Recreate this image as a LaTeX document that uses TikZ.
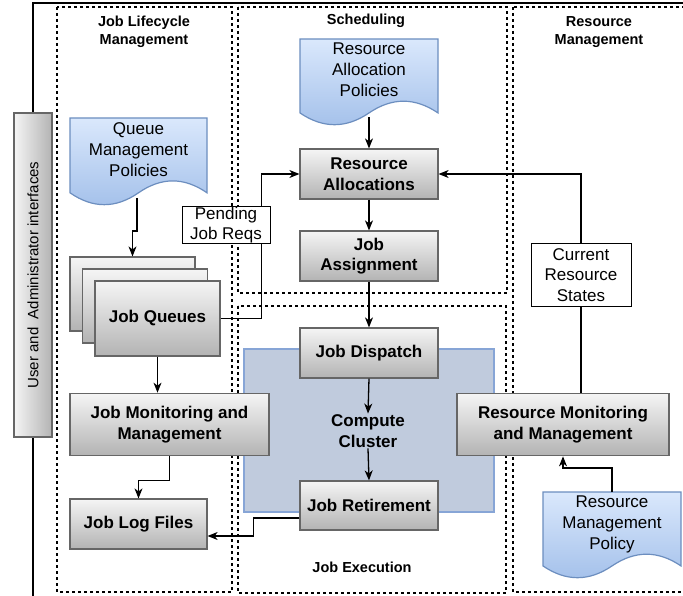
\documentclass[tikz,border=0pt]{standalone}
\usepackage{fontspec}
\setmainfont{Liberation Sans}
\usetikzlibrary{arrows.meta,calc}
\definecolor{docTop}{HTML}{DAE8FC}
\definecolor{docBot}{HTML}{A3C0EA}
\definecolor{docLine}{HTML}{6C8EBF}
\definecolor{boxTop}{HTML}{F5F5F5}
\definecolor{boxBot}{HTML}{B3B3B3}
\definecolor{boxLine}{HTML}{666666}
\definecolor{ccFill}{HTML}{C0CBDD}
\definecolor{ccLine}{HTML}{87A5D6}
\tikzset{
  gbox/.style={draw=boxLine, line width=1.2pt, top color=boxTop, bottom color=boxBot,
    font=\bfseries\fontsize{17}{20.5}\selectfont, align=center, inner sep=0pt},
  lblbox/.style={draw=black, fill=white, line width=1pt,
    font=\fontsize{17}{20.5}\selectfont, align=center, inner sep=0pt},
  contbox/.style={draw=black, line width=1.2pt, dash pattern=on 3pt off 3pt},
  conttitle/.style={font=\bfseries\fontsize{14.5}{18}\selectfont, align=center},
  docshape/.style={draw=docLine, line width=1.2pt, top color=docTop, bottom color=docBot},
  doctext/.style={font=\fontsize{17}{21}\selectfont, align=center},
  conn/.style={draw=black, line width=1.3pt, -{Stealth[length=10pt,width=8pt,inset=3pt]}},
}
\newcommand\mydocpath[4]{%
  \path[docshape, shift={(#1,#2)}, xscale=#3, yscale=#4]
    (0,0) -- (1,0) -- (1,0.85)
    .. controls (0.8333,0.67) and (0.6667,0.67) .. (0.5,0.85)
    .. controls (0.3333,1.03) and (0.1667,1.03) .. (0,0.85) -- cycle;}
\begin{document}
\begin{tikzpicture}[x=1pt,y=-1pt]
\useasboundingbox (0,0) rectangle (683,596);
\clip (0,0) rectangle (683,596);
% outer frame
\draw[line width=1.3pt] (33,600) -- (33,3) -- (690,3);
% containers
\draw[contbox] (57,7) rectangle (232,592);
\draw[contbox] (238,7) rectangle (507,293);
\draw[contbox] (238,306) rectangle (506,593);
\draw[contbox] (513,7) rectangle (695,592);
\node[conttitle] (tjl) at (144,32) {Job Lifecycle\\Management};
\node[conttitle] (tsch) at (366,21) {Scheduling};
\node[conttitle] (trm) at (599,32) {Resource\\Management};
\node[conttitle] (tje) at (362,567) {Job Execution};
% user bar
\node[draw=boxLine, line width=1.2pt, left color=boxTop, right color=boxBot,
  minimum width=38pt, minimum height=324pt, inner sep=0pt] (ui) at (33,275) {};
\node[rotate=90, font=\fontsize{15}{18}\selectfont] (uitext) at (ui) {User and\ \ Administrator interfaces};
% compute cluster
\draw[fill=ccFill, draw=ccLine, line width=1.2pt] (244,349) rectangle (494,512);
% documents
\mydocpath{70}{118}{137}{88}
\node[doctext] (qmp) at (138.5,150) {Queue\\Management\\Policies};
\coordinate (qmpout) at (137,198);
\mydocpath{300}{39}{138}{87}
\node[doctext] (rap) at (369,70) {Resource\\Allocation\\Policies};
\coordinate (rapout) at (369,117);
\mydocpath{543}{492}{138}{87}
\node[doctext] (rmp) at (612,524) {Resource\\Management\\Policy};
\coordinate (rmpout) at (612,492);
% boxes
\node[gbox, minimum width=138pt, minimum height=50pt] (ra) at (369,174) {Resource\\Allocations};
\node[gbox, minimum width=138pt, minimum height=50pt] (ja) at (369,256) {Job\\Assignment};
\node[gbox, minimum width=138pt, minimum height=50pt] (jd) at (369,353) {Job Dispatch};
\node[gbox, minimum width=138pt, minimum height=49pt] (jr) at (369,505.5) {Job Retirement};
\node[font=\bfseries\fontsize{17}{20.5}\selectfont, align=center, inner sep=1pt] (cc) at (368,431) {Compute\\Cluster};
\node[gbox, minimum width=125pt, minimum height=74pt] (jqb) at (132.5,294) {};
\node[gbox, minimum width=125pt, minimum height=74pt] (jqm) at (145,306) {};
\node[gbox, minimum width=125pt, minimum height=75pt] (jq) at (157.5,318.5) {Job Queues};
\node[gbox, minimum width=199pt, minimum height=62.5pt] (jm) at (169.5,424.5) {Job Monitoring and\\Management};
\node[gbox, minimum width=137pt, minimum height=50pt] (jl) at (138.5,524) {Job Log Files};
\node[gbox, minimum width=212pt, minimum height=62.5pt] (rm) at (563,424.5) {Resource Monitoring\\and Management};
% connectors
\draw[conn] (rapout) -- (ra.north);
\draw[conn] (ra.south) -- (ja.north);
\draw[conn] (ja.south) -- (jd.north);
\draw[conn] (jd.south) -- (cc.north);
\draw[conn] (cc.south) -- (jr.north);
\draw[conn] ([yshift=-12.5pt]jr.west) -- ++(-46,0) |- ([yshift=-12pt]jl.east);
\draw[conn] (jq.east) -- ++(41,0) |- (ra.west);
\draw[conn] ([xshift=18pt]rm.north) |- (ra.east);
\draw[conn] (jq.south) -- (jq.south |- jm.north);
\draw[conn] (jm.south) -- ++(0,24) -| (jl.north);
\draw[conn] (qmpout) -- ++(0,33) -| (jqb.north);
\draw[conn] (rmpout) -- ++(0,-24) -| (rm.south);
% label boxes
\node[lblbox, minimum width=88pt, minimum height=36.5pt] (pjr) at (226,225) {Pending\\Job Reqs};
\node[lblbox, minimum width=100pt, minimum height=62pt] (crs) at (581,275) {Current\\Resource\\States};
\end{tikzpicture}
\end{document}
